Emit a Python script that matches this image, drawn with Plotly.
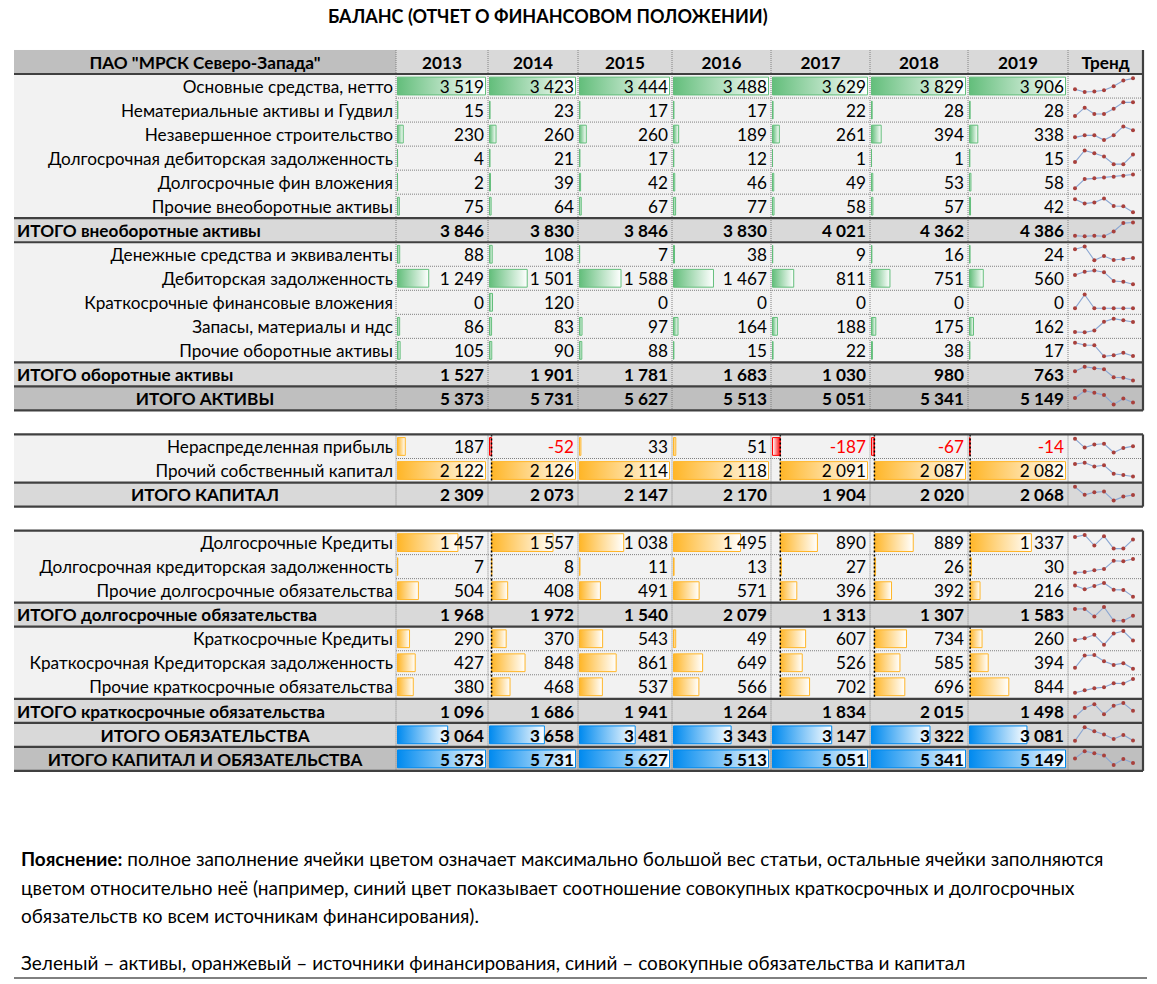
import plotly.graph_objects as go

# ---------------- data ----------------
title_text = "БАЛАНС (ОТЧЕТ О ФИНАНСОВОМ ПОЛОЖЕНИИ)"
company = 'ПАО "МРСК Северо-Запада"'
years = ["2013", "2014", "2015", "2016", "2017", "2018", "2019"]
trend_header = "Тренд"

noncurrent_labels = ["Основные средства, нетто", "Нематериальные активы и Гудвил",
                     "Незавершенное строительство", "Долгосрочная дебиторская задолженность",
                     "Долгосрочные фин вложения", "Прочие внеоборотные активы"]
noncurrent_values = [
    [3519, 3423, 3444, 3488, 3629, 3829, 3906],
    [15, 23, 17, 17, 22, 28, 28],
    [230, 260, 260, 189, 261, 394, 338],
    [4, 21, 17, 12, 1, 1, 15],
    [2, 39, 42, 46, 49, 53, 58],
    [75, 64, 67, 77, 58, 57, 42],
]
noncurrent_total_label = "ИТОГО внеоборотные активы"
noncurrent_total = [3846, 3830, 3846, 3830, 4021, 4362, 4386]

current_labels = ["Денежные средства и эквиваленты", "Дебиторская задолженность",
                  "Краткосрочные финансовые вложения", "Запасы, материалы и ндс",
                  "Прочие оборотные активы"]
current_values = [
    [88, 108, 7, 38, 9, 16, 24],
    [1249, 1501, 1588, 1467, 811, 751, 560],
    [0, 120, 0, 0, 0, 0, 0],
    [86, 83, 97, 164, 188, 175, 162],
    [105, 90, 88, 15, 22, 38, 17],
]
current_total_label = "ИТОГО оборотные активы"
current_total = [1527, 1901, 1781, 1683, 1030, 980, 763]
assets_total_label = "ИТОГО АКТИВЫ"
assets_total = [5373, 5731, 5627, 5513, 5051, 5341, 5149]

equity_labels = ["Нераспределенная прибыль", "Прочий собственный капитал"]
equity_values = [
    [187, -52, 33, 51, -187, -67, -14],
    [2122, 2126, 2114, 2118, 2091, 2087, 2082],
]
equity_total_label = "ИТОГО КАПИТАЛ"
equity_total = [2309, 2073, 2147, 2170, 1904, 2020, 2068]

longterm_labels = ["Долгосрочные Кредиты", "Долгосрочная кредиторская задолженность",
                   "Прочие долгосрочные обязательства"]
longterm_values = [
    [1457, 1557, 1038, 1495, 890, 889, 1337],
    [7, 8, 11, 13, 27, 26, 30],
    [504, 408, 491, 571, 396, 392, 216],
]
longterm_total_label = "ИТОГО долгосрочные обязательства"
longterm_total = [1968, 1972, 1540, 2079, 1313, 1307, 1583]

shortterm_labels = ["Краткосрочные Кредиты", "Краткосрочная Кредиторская задолженность",
                    "Прочие краткосрочные обязательства"]
shortterm_values = [
    [290, 370, 543, 49, 607, 734, 260],
    [427, 848, 861, 649, 526, 585, 394],
    [380, 468, 537, 566, 702, 696, 844],
]
shortterm_total_label = "ИТОГО краткосрочные обязательства"
shortterm_total = [1096, 1686, 1941, 1264, 1834, 2015, 1498]

liabilities_total_label = "ИТОГО ОБЯЗАТЕЛЬСТВА"
liabilities_total = [3064, 3658, 3481, 3343, 3147, 3322, 3081]
balance_total_label = "ИТОГО КАПИТАЛ И ОБЯЗАТЕЛЬСТВА"
balance_total = [5373, 5731, 5627, 5513, 5051, 5341, 5149]

note_lines = [
    "<b>Пояснение:</b> полное заполнение ячейки цветом означает максимально большой вес статьи, остальные ячейки заполняются",
    "цветом относительно неё (например, синий цвет показывает соотношение совокупных краткосрочных и долгосрочных",
    "обязательств ко всем источникам финансирования).",
]
legend_line = "Зеленый – активы, оранжевый – источники финансирования, синий – совокупные обязательства и капитал"

# ---------------- layout constants ----------------
FONT = "Lato, 'Noto Sans', sans-serif"
W, H = 1157, 984
ROW0_PX, ROW_PX = 62.0, 24.03
col_edges = [14, 396, 488, 578, 672, 771, 870, 968, 1068, 1143]
GREEN, ORANGE, BLUE, RED = "#63BE7B", "#FFB628", "#008AEF", "#FF0000"
group_color = {"g": GREEN, "o": ORANGE, "b": BLUE}
FS = 17.2       # table text size
FS_NOTE = 19.0  # note text size
TXT_DY = 0.1    # small downward nudge of text baseline within a row


def prow(px):
    return (px - ROW0_PX) / ROW_PX


# ---------------- assemble rows ----------------
rows = [None]  # row 0 = header
for lab, v in zip(noncurrent_labels, noncurrent_values):
    rows.append(dict(label=lab, vals=v, kind="item", group="g"))
rows.append(dict(label=noncurrent_total_label, vals=noncurrent_total, kind="sub", group=None))
for lab, v in zip(current_labels, current_values):
    rows.append(dict(label=lab, vals=v, kind="item", group="g"))
rows.append(dict(label=current_total_label, vals=current_total, kind="sub", group=None))
rows.append(dict(label=assets_total_label, vals=assets_total, kind="grand", group=None))
rows.append(dict(kind="blank"))
for lab, v in zip(equity_labels, equity_values):
    rows.append(dict(label=lab, vals=v, kind="item", group="o"))
rows.append(dict(label=equity_total_label, vals=equity_total, kind="mid", group=None))
rows.append(dict(kind="blank"))
for lab, v in zip(longterm_labels, longterm_values):
    rows.append(dict(label=lab, vals=v, kind="item", group="o"))
rows.append(dict(label=longterm_total_label, vals=longterm_total, kind="sub", group=None))
for lab, v in zip(shortterm_labels, shortterm_values):
    rows.append(dict(label=lab, vals=v, kind="item", group="o"))
rows.append(dict(label=shortterm_total_label, vals=shortterm_total, kind="sub", group=None))
rows.append(dict(label=liabilities_total_label, vals=liabilities_total, kind="mid", group="b"))
rows.append(dict(label=balance_total_label, vals=balance_total, kind="grand", group="b"))
NR = len(rows)

fig = go.Figure()

# ---------------- cell backgrounds (heatmap) ----------------
bg_code = {"item": 1, "sub": 2, "mid": 2, "grand": 3, "blank": 0}
z = []
for i, r in enumerate(rows):
    if r is None:
        z.append([3] + [2] * 8)
    else:
        z.append([bg_code[r["kind"]]] * 9)
fig.add_trace(go.Heatmap(
    z=z, x=col_edges, y=list(range(NR)), zmin=0, zmax=3, showscale=False,
    colorscale=[[0, "#FFFFFF"], [0.1667, "#FFFFFF"], [0.1667, "#F2F2F2"], [0.5, "#F2F2F2"],
                [0.5, "#D9D9D9"], [0.8333, "#D9D9D9"], [0.8333, "#BFBFBF"], [1, "#BFBFBF"]],
    hoverinfo="skip"))

# ---------------- grid lines ----------------
blocks = []
start = 0
for i in range(NR + 1):
    if i == NR or (rows[i] is not None and rows[i]["kind"] == "blank"):
        blocks.append((start, i - 1))
        start = i + 1
thick_after = set()
thick_before = set()
for a, b in blocks:
    thick_after.add(b)
    if a > 0:
        thick_before.add(a)
thick_after.add(0)
for i in range(1, NR):
    r = rows[i]
    if r["kind"] in ("sub", "mid", "grand"):
        thick_before.add(i)
        thick_after.add(i)

dx, dy = [], []
for x in col_edges[1:-1]:
    for a, b in blocks:
        dx += [x, x, None]
        dy += [a - 0.5, b + 0.5, None]
for a, b in blocks:
    for i in range(a, b):
        if i in thick_after or (i + 1) in thick_before:
            continue
        dx += [col_edges[1], col_edges[-1], None]
        dy += [i + 0.5, i + 0.5, None]
fig.add_trace(go.Scatter(x=dx, y=dy, mode="lines", hoverinfo="skip",
                         line=dict(color="#808080", width=1, dash="1px,1px")))

# ---------------- data bars ----------------
group_rows = {"g": [], "o": [], "b": []}
for i in range(1, NR):
    r = rows[i]
    if r["kind"] != "blank" and r["group"]:
        group_rows[r["group"]].append(i)

axis_x, axis_y = [], []
for g, idxs in group_rows.items():
    for j in range(7):
        colvals = [rows[i]["vals"][j] for i in idxs]
        vmax = max(colvals)
        vmin = min(0, min(colvals))
        L = col_edges[j + 1]
        U = col_edges[j + 2] - L - 4
        span = vmax - vmin
        ax = L + 1.5 + (-vmin) / span * U
        if vmin < 0:
            for i in idxs:
                axis_x += [ax, ax, None]
                axis_y += [i - 0.5, i + 0.5, None]
        for i in idxs:
            v = rows[i]["vals"][j]
            if v == 0:
                continue
            end = ax + v / span * U
            x0, x1 = min(ax, end), max(ax, end)
            c = group_color[g] if v > 0 else RED
            cs = [[0, c], [1, "#FFFFFF"]] if v > 0 else [[0, "#FFFFFF"], [1, c]]
            fig.add_trace(go.Scatter(
                x=[x0, x1, x1, x0, x0], y=[i - 0.37, i - 0.37, i + 0.37, i + 0.37, i - 0.37],
                mode="lines", fill="toself", hoverinfo="skip",
                fillgradient=dict(type="horizontal", colorscale=cs),
                line=dict(color=c, width=1)))
if axis_x:
    fig.add_trace(go.Scatter(x=axis_x, y=axis_y, mode="lines", hoverinfo="skip",
                             line=dict(color="#000000", width=1.5, dash="2px,2px")))

# ---------------- thick lines ----------------
tx, ty = [], []
bounds = sorted(set([i + 0.5 for i in thick_after] + [i - 0.5 for i in thick_before]))
for b in bounds:
    tx += [col_edges[0], col_edges[-1], None]
    ty += [b, b, None]
for a, b in blocks:
    tx += [col_edges[-1], col_edges[-1], None]
    ty += [a - 0.5, b + 0.5, None]
fig.add_trace(go.Scatter(x=tx, y=ty, mode="lines", hoverinfo="skip",
                         line=dict(color="#404040", width=2.2)))

# ---------------- texts ----------------
def fmt(v):
    s = f"{abs(v):,}".replace(",", "\u00a0")
    return ("-" if v < 0 else "") + s


def add_text(xs, ys, texts, pos, bold=False, color="#000000", size=FS):
    fig.add_trace(go.Scatter(x=xs, y=[y + TXT_DY for y in ys], text=texts, mode="text",
                             textposition=pos, hoverinfo="skip",
                             textfont=dict(family=FONT, size=size, color=color,
                                           weight="bold" if bold else "normal")))

# header
add_text([(col_edges[0] + col_edges[1]) / 2], [0], [company], "middle center", bold=True)
add_text([(col_edges[k + 1] + col_edges[k + 2]) / 2 for k in range(7)], [0] * 7, years,
         "middle center", bold=True)
add_text([(col_edges[8] + col_edges[9]) / 2], [0], [trend_header], "middle center", bold=True)

lab_r = ([], [], [])
lab_l = ([], [], [])
lab_c = ([], [], [])
num_n = ([], [], [])
num_b = ([], [], [])
num_red = ([], [], [])
for i in range(1, NR):
    r = rows[i]
    if r["kind"] == "blank":
        continue
    if r["kind"] == "item":
        lab_r[0].append(col_edges[1] - 3); lab_r[1].append(i); lab_r[2].append(r["label"])
    elif r["kind"] == "sub":
        lab_l[0].append(col_edges[0] + 3); lab_l[1].append(i); lab_l[2].append(r["label"])
    else:
        lab_c[0].append((col_edges[0] + col_edges[1]) / 2); lab_c[1].append(i); lab_c[2].append(r["label"])
    for j, v in enumerate(r["vals"]):
        tgt = num_n if r["kind"] == "item" else num_b
        if v < 0:
            tgt = num_red
        tgt[0].append(col_edges[j + 2] - 4); tgt[1].append(i); tgt[2].append(fmt(v))

add_text(*lab_r, "middle left")
add_text(*lab_l, "middle right", bold=True)
add_text(*lab_c, "middle center", bold=True)
add_text(*num_n, "middle left")
add_text(*num_b, "middle left", bold=True)
add_text(*num_red, "middle left", color=RED)

# ---------------- sparklines ----------------
sx0 = col_edges[8] + 7
sx1 = col_edges[9] - 10
for i in range(1, NR):
    r = rows[i]
    if r["kind"] == "blank":
        continue
    v = r["vals"]
    lo, hi = min(v), max(v)
    xs = [sx0 + k * (sx1 - sx0) / 6 for k in range(7)]
    ys = [i + 0.25 - (val - lo) / (hi - lo) * 0.57 for val in v]
    fig.add_trace(go.Scatter(x=xs, y=ys, mode="lines+markers", hoverinfo="skip",
                             line=dict(color="#8AA6D2", width=1.1),
                             marker=dict(color="#A8403C", size=4)))

# ---------------- title / notes ----------------
ann = [dict(x=548, y=prow(16), text=f"<b>{title_text}</b>", showarrow=False,
            xanchor="center", yanchor="middle", font=dict(family=FONT, size=18, color="#000"))]
for k, (t, py) in enumerate(zip(note_lines, [858, 887, 915])):
    ann.append(dict(x=19, y=prow(py), text=t, showarrow=False, xanchor="left", yanchor="middle",
                    font=dict(family=FONT, size=FS_NOTE, color="#000")))
ann.append(dict(x=19, y=prow(962), text=legend_line, showarrow=False, xanchor="left",
                yanchor="middle", font=dict(family=FONT, size=FS_NOTE, color="#000")))
for a in ann:
    a.update(xref="x", yref="y")
fig.add_trace(go.Scatter(x=[col_edges[0], 1147], y=[prow(978), prow(978)], mode="lines",
                         hoverinfo="skip", line=dict(color="#000000", width=1)))

fig.update_layout(
    width=W, height=H, margin=dict(l=0, r=0, t=0, b=0), showlegend=False,
    paper_bgcolor="white", plot_bgcolor="white", annotations=ann,
    xaxis=dict(range=[0, W], visible=False, fixedrange=True),
    yaxis=dict(range=[prow(H), prow(0)], visible=False, fixedrange=True),
)

fig.write_html("out.html", config={"displayModeBar": False},
               post_script="document.body.style.margin='0';document.body.style.overflow='hidden';")
